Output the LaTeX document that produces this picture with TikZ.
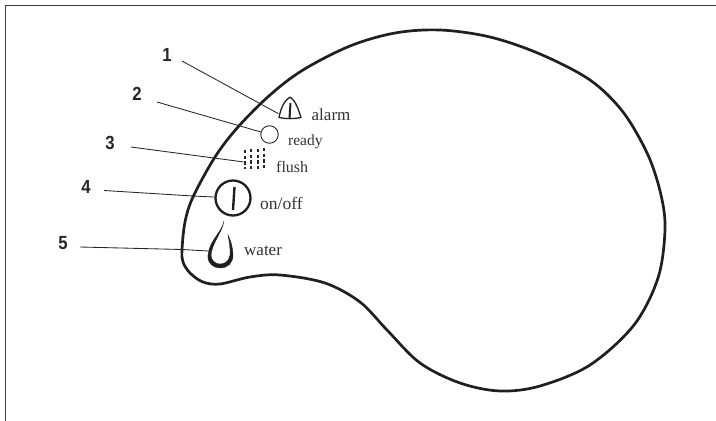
\documentclass[tikz,border=0pt]{standalone}
\usepackage{fontspec}
\setmainfont{Liberation Serif}
\newfontfamily\numfont{Liberation Sans}
\begin{document}
\begin{tikzpicture}[x=1pt,y=-1pt,
  numlabel/.style={font=\numfont\bfseries\fontsize{19}{19}\selectfont,xscale=.88,inner sep=0pt,text=black!85},
  caption/.style={anchor=base west,inner sep=0pt,text=black!80},
  leader/.style={line width=.85pt,black!85},
  blob/.style={line width=2.7pt,black!88,line join=round},
  icon/.style={line width=1.5pt,black!88,line join=round,line cap=round}]
\useasboundingbox (0,0) rectangle (716,421);
\draw[line width=1.3pt,black!75] (5.5,421) -- (5.5,5.5) -- (716,5.5);
% outline
\draw[blob] plot[smooth cycle,tension=.55] coordinates {
 (182,250) (185,222) (193,197) (215,157) (238,127) (270,95) (303,70) (350,46) (395,33)
 (440,30) (490,37) (540,54) (590,80) (623,112) (648,155) (661,195) (665,230) (658,278)
 (634,325) (590,365) (540,386) (500,391) (460,383) (420,363) (387,330) (360,302) (325,283)
 (280,275) (250,277) (220,284) (203,282) (190,273) (183,262)};
% icons
\node[minimum size=1pt,inner sep=0pt] (alarm) at (279,114) {};
\draw[icon,line width=1.3pt] (279,117.5) .. controls (281,107) and (285,100) .. (290,97) .. controls (295,100) and (298,108) .. (301,117.5) .. controls (294,119) and (286,119) .. (279,117.5) -- cycle;
\draw[line width=2pt,black!88] (290.5,103) -- (289.5,118);
\node[circle,draw=black!85,line width=.9pt,minimum size=17.5pt,inner sep=0pt] (ready) at (269.5,134.5) {};
\node[minimum size=1pt,inner sep=0pt] (flushicon) at (244,162) {};
\foreach \x/\t in {245/150,251/149,258/149,264/148}
  \draw[line width=1.8pt,black!85,dash pattern=on 3.4pt off 2.2pt] (\x,\t) -- (\x,169);
\node[circle,draw=black!88,line width=2.3pt,minimum size=35pt,inner sep=0pt] (onoff) at (233,198) {};
\draw[line width=2.4pt,black!88] (234.5,187) -- (233,210);
\node[minimum size=1pt,inner sep=0pt] (drop) at (208.5,251) {};
\draw[fill=black!88,draw=black!88,line width=.3pt] (224,221) .. controls (222,232) and (209,241) .. (208,255)
  .. controls (207,264) and (214,268) .. (220,268) .. controls (228,268) and (233,263) .. (233,255)
  .. controls (233,248) and (231,241) .. (228,235) .. controls (229.5,244) and (230.5,249) .. (230,255)
  .. controls (229,261) and (225,264) .. (220,264) .. controls (215,264) and (211,260) .. (211,255)
  .. controls (212,243) and (222,233) .. (224,221) -- cycle;
% captions
\node[caption,font=\fontsize{17}{17}\selectfont] at (311.5,120) {alarm};
\node[caption,font=\fontsize{15.5}{15.5}\selectfont] at (288,145) {ready};
\node[caption,font=\fontsize{16}{16}\selectfont] at (276,172.5) {flush};
\node[caption,font=\fontsize{17.5}{17.5}\selectfont] at (260,209) {on/off};
\node[caption,font=\fontsize{17}{17}\selectfont] at (244,255) {water};
% numbers and leaders
\node[numlabel] (n1) at (167,54.5) {1};
\node[numlabel] (n2) at (137,94) {2};
\node[numlabel] (n3) at (110,142.5) {3};
\node[numlabel] (n4) at (86,187) {4};
\node[numlabel] (n5) at (63,243) {5};
\coordinate (s1) at (182,61);
\coordinate (s2) at (157,102);
\coordinate (s3) at (131,147);
\coordinate (s4) at (104,190.5);
\coordinate (s5) at (80,247);
\draw[leader] (s1) -- (alarm);
\draw[leader] (s2) -- (ready);
\draw[leader] (s3) -- (flushicon);
\draw[leader] (s4) -- (193,196) -- (onoff);
\draw[leader] (s5) -- (182,249.5) -- (drop);
\end{tikzpicture}
\end{document}
